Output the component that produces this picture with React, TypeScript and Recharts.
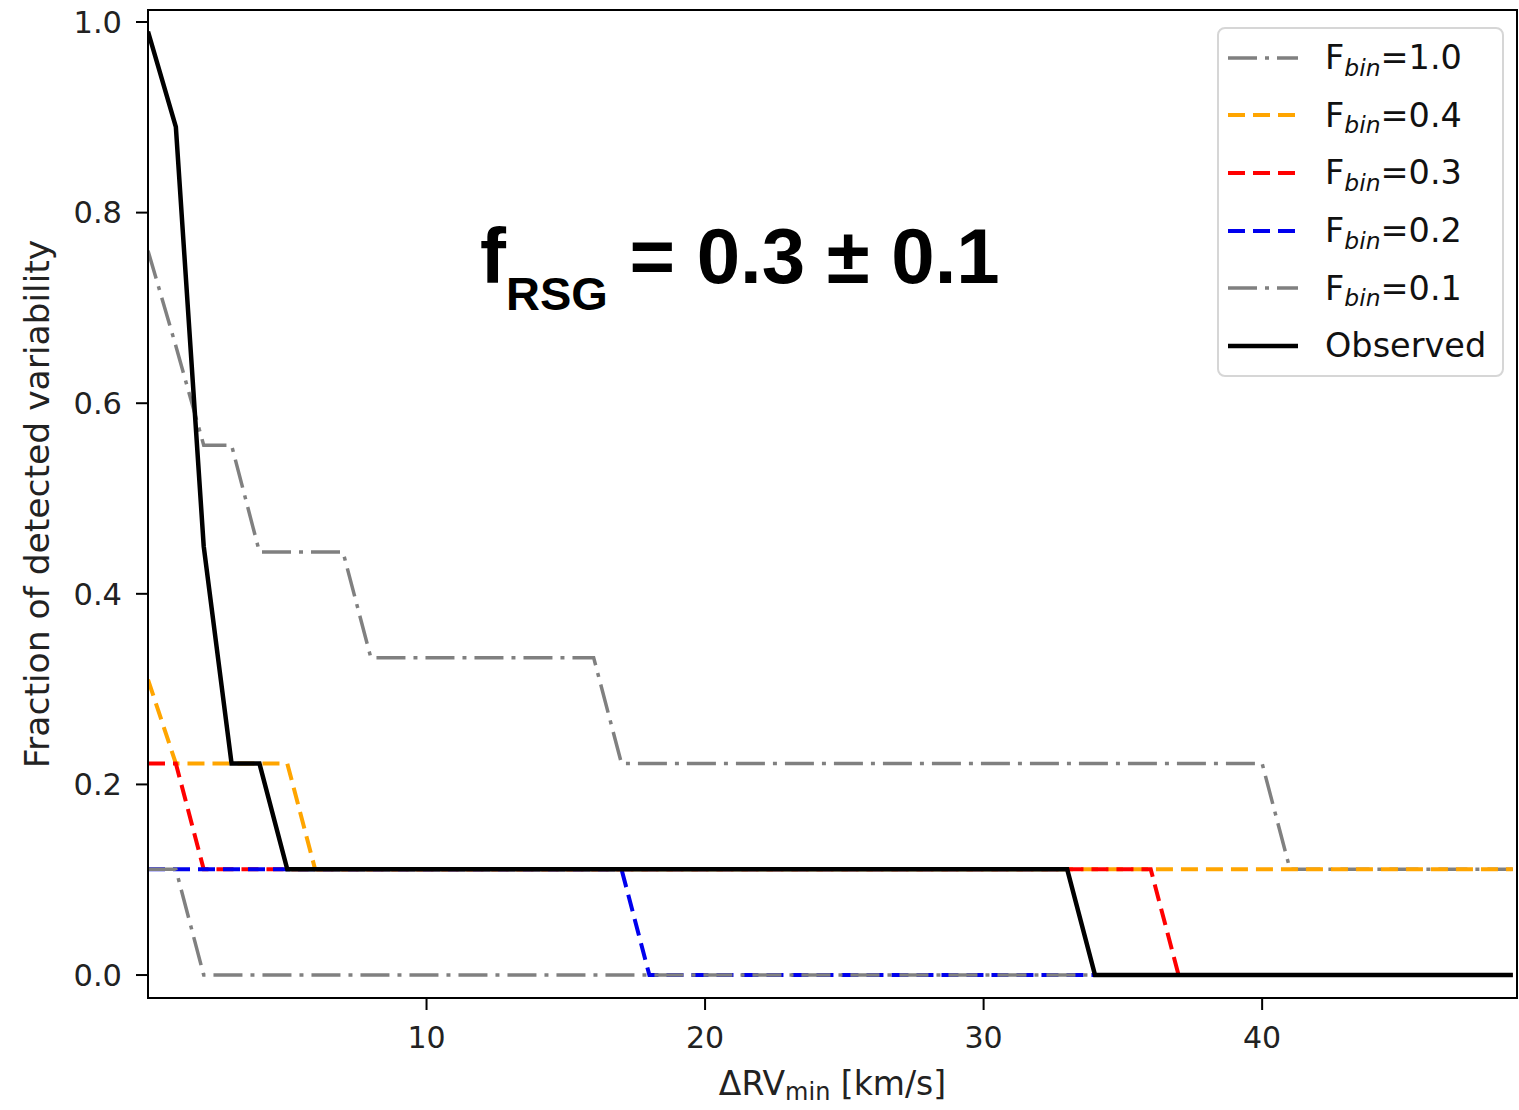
import React from 'react'
import { LineChart, Line, XAxis, YAxis, Legend, ReferenceArea, Label } from 'recharts'

// Minimum RV amplitude threshold (km/s)
const dRV = [
    0, 1, 2, 3, 4, 5, 6, 7, 8, 9,
    10, 11, 12, 13, 14, 15, 16, 17, 18, 19,
    20, 21, 22, 23, 24, 25, 26, 27, 28, 29,
    30, 31, 32, 33, 34, 35, 36, 37, 38, 39,
    40, 41, 42, 43, 44, 45, 46, 47, 48, 49,
]

// Simulated detection fractions for various binary fractions
const fbin10 = [
    0.76, 0.66, 0.556, 0.556, 0.444, 0.444, 0.444, 0.444, 0.333, 0.333,
    0.333, 0.333, 0.333, 0.333, 0.333, 0.333, 0.333, 0.222, 0.222, 0.222,
    0.222, 0.222, 0.222, 0.222, 0.222, 0.222, 0.222, 0.222, 0.222, 0.222,
    0.222, 0.222, 0.222, 0.222, 0.222, 0.222, 0.222, 0.222, 0.222, 0.222,
    0.222, 0.111, 0.111, 0.111, 0.111, 0.111, 0.111, 0.111, 0.111, 0.111,
]
const fbin04 = [
    0.31, 0.222, 0.222, 0.222, 0.222, 0.222, 0.111, 0.111, 0.111, 0.111,
    0.111, 0.111, 0.111, 0.111, 0.111, 0.111, 0.111, 0.111, 0.111, 0.111,
    0.111, 0.111, 0.111, 0.111, 0.111, 0.111, 0.111, 0.111, 0.111, 0.111,
    0.111, 0.111, 0.111, 0.111, 0.111, 0.111, 0.111, 0.111, 0.111, 0.111,
    0.111, 0.111, 0.111, 0.111, 0.111, 0.111, 0.111, 0.111, 0.111, 0.111,
]
const fbin03 = [
    0.222, 0.222, 0.111, 0.111, 0.111, 0.111, 0.111, 0.111, 0.111, 0.111,
    0.111, 0.111, 0.111, 0.111, 0.111, 0.111, 0.111, 0.111, 0.111, 0.111,
    0.111, 0.111, 0.111, 0.111, 0.111, 0.111, 0.111, 0.111, 0.111, 0.111,
    0.111, 0.111, 0.111, 0.111, 0.111, 0.111, 0.111, 0, 0, 0,
    0, 0, 0, 0, 0, 0, 0, 0, 0, 0,
]
const fbin02 = [
    0.111, 0.111, 0.111, 0.111, 0.111, 0.111, 0.111, 0.111, 0.111, 0.111,
    0.111, 0.111, 0.111, 0.111, 0.111, 0.111, 0.111, 0.111, 0, 0,
    0, 0, 0, 0, 0, 0, 0, 0, 0, 0,
    0, 0, 0, 0, 0, 0, 0, 0, 0, 0,
    0, 0, 0, 0, 0, 0, 0, 0, 0, 0,
]
const fbin01 = [
    0.111, 0.111, 0, 0, 0, 0, 0, 0, 0, 0,
    0, 0, 0, 0, 0, 0, 0, 0, 0, 0,
    0, 0, 0, 0, 0, 0, 0, 0, 0, 0,
    0, 0, 0, 0, 0, 0, 0, 0, 0, 0,
    0, 0, 0, 0, 0, 0, 0, 0, 0, 0,
]
const observed = [
    0.99, 0.89, 0.45, 0.222, 0.222, 0.111, 0.111, 0.111, 0.111, 0.111,
    0.111, 0.111, 0.111, 0.111, 0.111, 0.111, 0.111, 0.111, 0.111, 0.111,
    0.111, 0.111, 0.111, 0.111, 0.111, 0.111, 0.111, 0.111, 0.111, 0.111,
    0.111, 0.111, 0.111, 0.111, 0, 0, 0, 0, 0, 0,
    0, 0, 0, 0, 0, 0, 0, 0, 0, 0,
]

const xTicks = [10, 20, 30, 40]
const yTicks = [0, 0.2, 0.4, 0.6, 0.8, 1.0]
const legendValues = ['=1.0', '=0.4', '=0.3', '=0.2', '=0.1']

const data = dRV.map((x, i) => ({
    x,
    fbin10: fbin10[i],
    fbin04: fbin04[i],
    fbin03: fbin03[i],
    fbin02: fbin02[i],
    fbin01: fbin01[i],
    observed: observed[i],
}))

const X_DOMAIN: [number, number] = [0, 49.15]
const Y_DOMAIN: [number, number] = [-0.0241, 1.0126]

const DASH = '17 8'
const DASH_DOT = '29 8 4 8'

// series styling, in legend order
const seriesStyle = [
    { key: 'fbin10', color: '#808080', dash: DASH_DOT, width: 3.5 },
    { key: 'fbin04', color: '#ffa500', dash: DASH, width: 4 },
    { key: 'fbin03', color: '#ff0000', dash: DASH, width: 4 },
    { key: 'fbin02', color: '#0000ee', dash: DASH, width: 4 },
    { key: 'fbin01', color: '#808080', dash: DASH_DOT, width: 3.5 },
    { key: 'observed', color: '#000000', dash: undefined, width: 4.5 },
]

const FONT = '"DejaVu Sans", sans-serif'

const LegendBox = () => (
    <div
        style={{
            width: 287,
            height: 350,
            boxSizing: 'border-box',
            border: '2px solid #d6d6d6',
            borderRadius: 8,
            background: 'rgba(255,255,255,0.85)',
            fontFamily: FONT,
            fontSize: 33.5,
            color: '#111',
        }}
    >
        {seriesStyle.map((s, i) => (
            <div
                key={s.key}
                style={{ height: 57.6, display: 'flex', alignItems: 'center' }}
            >
                <svg width={108} height={20} style={{ flex: 'none', marginLeft: -2 }}>
                    <line
                        x1={11}
                        x2={81}
                        y1={10}
                        y2={10}
                        stroke={s.color}
                        strokeWidth={s.width}
                        strokeDasharray={s.dash}
                    />
                </svg>
                {i < legendValues.length ? (
                    <span style={{ whiteSpace: 'nowrap' }}>
                        F
                        <span
                            style={{
                                fontStyle: 'italic',
                                fontSize: '0.7em',
                                position: 'relative',
                                top: '0.28em',
                            }}
                        >
                            bin
                        </span>
                        {legendValues[i]}
                    </span>
                ) : (
                    <span>Observed</span>
                )}
            </div>
        ))}
    </div>
)

const XLabel = (props: any) => {
    const vb = props.viewBox || { x: 148, y: 998, width: 1369, height: 112 }
    return (
        <text
            x={vb.x + vb.width / 2}
            y={vb.y + 97}
            textAnchor='middle'
            fontFamily={FONT}
            fontSize={33}
            fill='#222'
        >
            ΔRV
            <tspan fontSize={24} dy={5}>min</tspan>
            <tspan dy={-5}> [km/s]</tspan>
        </text>
    )
}

export default function App() {
    return (
        <div style={{ position: 'absolute', left: 0, top: 0, width: 1519, height: 1110, background: '#fff' }}>
            <LineChart
                width={1519}
                height={1110}
                data={data}
                margin={{ top: 10, right: 2, bottom: 0, left: 0 }}
            >
                <ReferenceArea
                    x1={X_DOMAIN[0]}
                    x2={X_DOMAIN[1]}
                    y1={Y_DOMAIN[0]}
                    y2={Y_DOMAIN[1]}
                    fill='none'
                    stroke='#000'
                    strokeWidth={2}
                    ifOverflow='visible'
                />
                <XAxis
                    dataKey='x'
                    type='number'
                    domain={X_DOMAIN}
                    allowDataOverflow
                    ticks={xTicks}
                    height={112}
                    tickSize={12}
                    tickMargin={17}
                    axisLine={{ stroke: '#000', strokeWidth: 2 }}
                    tickLine={{ stroke: '#000', strokeWidth: 2 }}
                    tick={{ fill: '#222', fontSize: 30, fontFamily: FONT }}
                >
                    <Label content={XLabel} />
                </XAxis>
                <YAxis
                    type='number'
                    domain={Y_DOMAIN}
                    allowDataOverflow
                    ticks={yTicks}
                    width={148}
                    tickSize={12}
                    tickMargin={14}
                    tickFormatter={(v: number) => v.toFixed(1)}
                    axisLine={{ stroke: '#000', strokeWidth: 2 }}
                    tickLine={{ stroke: '#000', strokeWidth: 2 }}
                    tick={{ fill: '#222', fontSize: 30.5, fontFamily: FONT }}
                    label={{
                        value: 'Fraction of detected variability',
                        angle: -90,
                        position: 'center',
                        dx: -37,
                        style: { fill: '#222', fontSize: 34.5, fontFamily: FONT },
                    }}
                />
                <Legend
                    layout='vertical'
                    align='center'
                    verticalAlign='middle'
                    content={<LegendBox />}
                    wrapperStyle={{ left: 1217, top: 27, width: 287, height: 350 }}
                />
                {seriesStyle.map(s => (
                    <Line
                        key={s.key}
                        type='linear'
                        dataKey={s.key}
                        stroke={s.color}
                        strokeWidth={s.width}
                        strokeDasharray={s.dash}
                        dot={false}
                        activeDot={false}
                        isAnimationActive={false}
                    />
                ))}
            </LineChart>
            <svg
                width={1519}
                height={1110}
                style={{ position: 'absolute', left: 0, top: 0, pointerEvents: 'none' }}
            >
                <text
                    x={480}
                    y={283}
                    fontFamily='"Liberation Sans", Arial, sans-serif'
                    fontWeight='bold'
                    fontSize={78}
                    fill='#000'
                >
                    f
                    <tspan fontSize={47} dy={27}>RSG</tspan>
                    <tspan dy={-27}> = 0.3 ± 0.1</tspan>
                </text>
            </svg>
        </div>
    )
}
